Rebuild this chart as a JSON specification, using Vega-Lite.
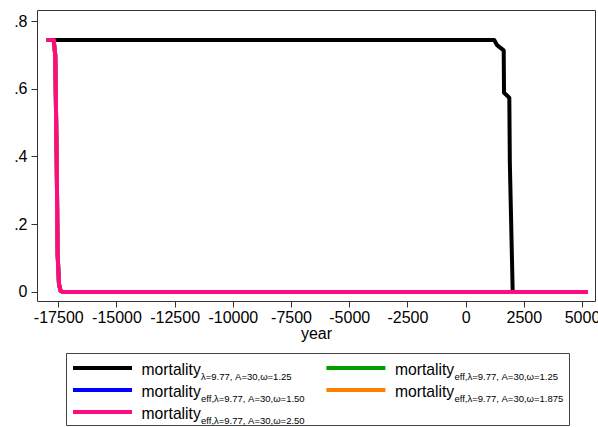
{
  "$schema": "https://vega.github.io/schema/vega-lite/v6.json",
  "padding": {"left": 6, "top": 9, "right": 0, "bottom": 0},
  "spacing": 10,
  "config": {
    "font": "Liberation Sans",
    "view": {"stroke": "#333333", "strokeWidth": 1},
    "axis": {
      "grid": false,
      "domain": false,
      "labelColor": "#000000",
      "tickColor": "#333333",
      "tickSize": 6,
      "labelFontSize": 16,
      "titleFontSize": 16,
      "titleFontWeight": "normal",
      "titleColor": "#000000"
    }
  },
  "datasets": {
    "curves": [
      {"series": "m", "year": -18000, "value": 0.744},
      {"series": "m", "year": 1230, "value": 0.744},
      {"series": "m", "year": 1349, "value": 0.729},
      {"series": "m", "year": 1637, "value": 0.7135},
      {"series": "m", "year": 1650, "value": 0.588},
      {"series": "m", "year": 1878, "value": 0.5736},
      {"series": "m", "year": 1900, "value": 0.382},
      {"series": "m", "year": 2023, "value": 0},
      {"series": "m", "year": 5250, "value": 0},

      {"series": "e125", "year": -18000, "value": 0.744},
      {"series": "e125", "year": -17700, "value": 0.744},
      {"series": "e125", "year": -17630, "value": 0.70},
      {"series": "e125", "year": -17570, "value": 0.40},
      {"series": "e125", "year": -17527, "value": 0.11},
      {"series": "e125", "year": -17470, "value": 0.024},
      {"series": "e125", "year": -17400, "value": 0.003},
      {"series": "e125", "year": -17300, "value": 0},
      {"series": "e125", "year": 5250, "value": 0},

      {"series": "e150", "year": -18000, "value": 0.744},
      {"series": "e150", "year": -17700, "value": 0.744},
      {"series": "e150", "year": -17630, "value": 0.70},
      {"series": "e150", "year": -17570, "value": 0.40},
      {"series": "e150", "year": -17527, "value": 0.11},
      {"series": "e150", "year": -17470, "value": 0.024},
      {"series": "e150", "year": -17400, "value": 0.003},
      {"series": "e150", "year": -17300, "value": 0},
      {"series": "e150", "year": 5250, "value": 0},

      {"series": "e1875", "year": -18000, "value": 0.744},
      {"series": "e1875", "year": -17700, "value": 0.744},
      {"series": "e1875", "year": -17630, "value": 0.70},
      {"series": "e1875", "year": -17570, "value": 0.40},
      {"series": "e1875", "year": -17527, "value": 0.11},
      {"series": "e1875", "year": -17470, "value": 0.024},
      {"series": "e1875", "year": -17400, "value": 0.003},
      {"series": "e1875", "year": -17300, "value": 0},
      {"series": "e1875", "year": 5250, "value": 0},

      {"series": "e250", "year": -18000, "value": 0.744},
      {"series": "e250", "year": -17700, "value": 0.744},
      {"series": "e250", "year": -17630, "value": 0.70},
      {"series": "e250", "year": -17570, "value": 0.40},
      {"series": "e250", "year": -17527, "value": 0.11},
      {"series": "e250", "year": -17470, "value": 0.024},
      {"series": "e250", "year": -17400, "value": 0.003},
      {"series": "e250", "year": -17300, "value": 0},
      {"series": "e250", "year": 5250, "value": 0}
    ],
    "keys": [
      {"series": "m", "name": "mortality", "sub": "λ=9.77, A=30,ω=1.25", "col": 0, "row": 0},
      {"series": "e125", "name": "mortality", "sub": "eff,λ=9.77, A=30,ω=1.25", "col": 1, "row": 0},
      {"series": "e150", "name": "mortality", "sub": "eff,λ=9.77, A=30,ω=1.50", "col": 0, "row": 1},
      {"series": "e1875", "name": "mortality", "sub": "eff,λ=9.77, A=30,ω=1.875", "col": 1, "row": 1},
      {"series": "e250", "name": "mortality", "sub": "eff,λ=9.77, A=30,ω=2.50", "col": 0, "row": 2}
    ]
  },
  "vconcat": [
    {
      "width": 558,
      "height": 291,
      "data": {"name": "curves"},
      "encoding": {
        "x": {
          "field": "year",
          "type": "quantitative",
          "scale": {"domain": [-18414, 5559], "nice": false, "zero": false},
          "axis": {
            "title": "year",
            "values": [-17500, -15000, -12500, -10000, -7500, -5000, -2500, 0, 2500, 5000],
            "labelExpr": "'' + datum.value",
            "labelPadding": 2,
            "titlePadding": 0
          }
        },
        "y": {
          "field": "value",
          "type": "quantitative",
          "scale": {"domain": [-0.0266, 0.8325], "nice": false, "zero": false},
          "axis": {
            "title": null,
            "values": [0, 0.2, 0.4, 0.6, 0.8],
            "labelExpr": "datum.value == 0 ? '0' : replace('' + datum.value, '0.', '.')",
            "labelPadding": 4,
            "minExtent": 30
          }
        },
        "color": {
          "field": "series",
          "type": "nominal",
          "scale": {
            "domain": ["m", "e125", "e150", "e1875", "e250"],
            "range": ["#000000", "#00a000", "#0000ff", "#ff8000", "#ff0a80"]
          },
          "legend": null
        }
      },
      "layer": [
        {
          "transform": [{"filter": "datum.series == 'm'"}],
          "mark": {"type": "line", "strokeWidth": 4, "strokeCap": "butt", "strokeJoin": "round"}
        },
        {
          "transform": [{"filter": "datum.series == 'e125' || datum.series == 'e150' || datum.series == 'e1875'"}],
          "mark": {"type": "line", "strokeWidth": 4, "strokeCap": "butt", "strokeJoin": "round"}
        },
        {
          "transform": [{"filter": "datum.series == 'e250'"}],
          "mark": {"type": "line", "strokeWidth": 4, "strokeCap": "butt", "strokeJoin": "round"}
        }
      ]
    },
    {
      "spacing": 10,
      "hconcat": [
        {
          "width": 18,
          "height": 72,
          "view": {"stroke": null, "fill": "#ffffff"},
          "data": {"values": []},
          "mark": "point"
        },
        {
          "width": 503,
          "height": 72,
          "view": {"stroke": "#444444", "strokeWidth": 1},
          "data": {"name": "keys"},
          "encoding": {
            "x": {
              "field": "col",
              "type": "quantitative",
              "scale": {"domain": [0, 1], "range": [7, 260.4]},
              "axis": null
            },
            "y": {
              "field": "row",
              "type": "quantitative",
              "scale": {"domain": [0, 2], "range": [15, 59]},
              "axis": null
            },
            "color": {"field": "series", "type": "nominal", "legend": null}
          },
          "layer": [
            {
              "mark": {"type": "rule", "strokeWidth": 4, "x2Offset": 59},
              "encoding": {"x2": {"field": "col"}}
            },
            {
              "mark": {"type": "text", "align": "left", "baseline": "alphabetic", "dx": 68.5, "dy": 7, "fontSize": 15.7},
              "encoding": {"text": {"field": "name"}, "color": {"value": "#000000"}}
            },
            {
              "mark": {"type": "text", "align": "left", "baseline": "alphabetic", "dx": 128, "dy": 11.5, "fontSize": 9.5},
              "encoding": {"text": {"field": "sub"}, "color": {"value": "#000000"}}
            }
          ]
        }
      ]
    }
  ]
}
